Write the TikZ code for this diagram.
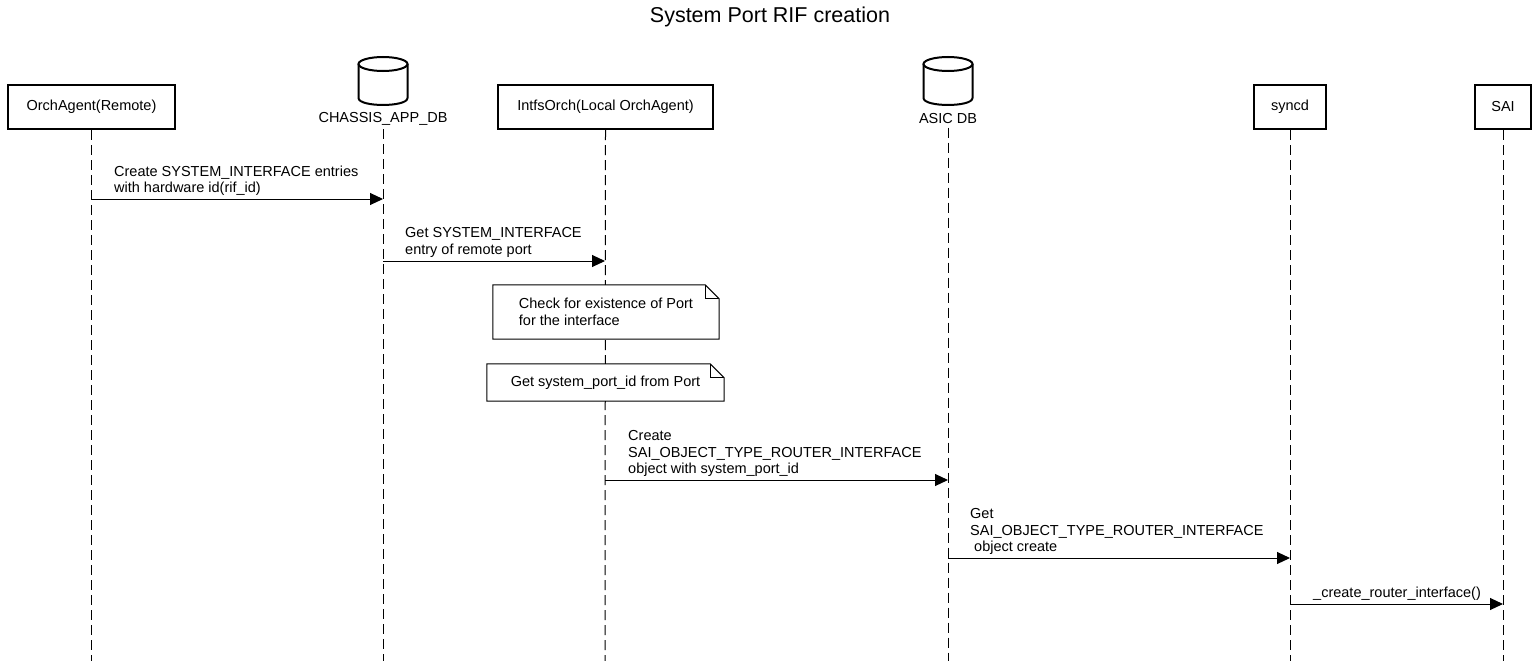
\documentclass[tikz,border=0pt]{standalone}
\usepackage{fontspec}
\setmainfont{Liberation Sans}
\usetikzlibrary{arrows.meta,positioning,calc}

\begin{document}
\begin{tikzpicture}[x=1pt,y=-1pt,
    every node/.style={font=\fontsize{14.5}{16.5}\selectfont},
    actor/.style={draw,line width=2pt,minimum height=44},
    dbline/.style={line width=2pt},
    lifeline/.style={line width=1pt,dash pattern=on 10pt off 5pt},
    msg/.style={line width=1pt,-{Triangle[length=13pt,width=12pt]}},
    lbl/.style={anchor=north west,inner sep=0pt,align=left},
    note/.style={fill=white,inner sep=0pt,align=left},
    noteline/.style={line width=1pt}]
  \useasboundingbox (0,0) rectangle (1540,661);
  \node (title) at (770,17) {\fontsize{21.5}{24}\selectfont System Port RIF creation};

  \node[actor,minimum width=167] (orch) at (91.5,107) {OrchAgent(Remote)};
  \node[actor,minimum width=215] (intfs) at (605.5,107) {IntfsOrch(Local OrchAgent)};
  \node[actor,minimum width=72] (syncd) at (1290,107) {syncd};
  \node[actor,minimum width=56] (sai) at (1503,107) {SAI};

  \begin{scope}[shift={(383,0)}]
    \draw[dbline] (0,64) ellipse [x radius=24.5,y radius=7];
    \draw[dbline] (-24.5,64) -- (-24.5,98) .. controls (-24.5,107.3) and (24.5,107.3) .. (24.5,98) -- (24.5,64);
  \end{scope}
  \node (chdb) at (383,119) {CHASSIS\_APP\_DB};
  \begin{scope}[shift={(948,0)}]
    \draw[dbline] (0,64) ellipse [x radius=24.5,y radius=7];
    \draw[dbline] (-24.5,64) -- (-24.5,98) .. controls (-24.5,107.3) and (24.5,107.3) .. (24.5,98) -- (24.5,64);
  \end{scope}
  \node (asicdb) at (948,119) {ASIC DB};

  \draw[lifeline] (orch.south) -- (orch |- 0,661);
  \draw[lifeline] (chdb.south) -- (chdb |- 0,661);
  \draw[lifeline] (intfs.south) -- (605,661);
  \draw[lifeline] (asicdb.south) -- (asicdb |- 0,661);
  \draw[lifeline] (syncd.south) -- (syncd |- 0,661);
  \draw[lifeline] (sai.south) -- (sai |- 0,661);

  \draw[msg] (orch |- 0,199) -- (chdb |- 0,199);
  \node[lbl] (m1) at (114,165.5) {Create SYSTEM\_INTERFACE entries\\with hardware id(rif\_id)};
  \draw[msg] (chdb |- 0,261) -- (605,261);
  \node[lbl] (m2) at (405,227.5) {Get SYSTEM\_INTERFACE\\entry of remote port};

  \node[note,minimum width=226,minimum height=54] (n1) at (606,312) {Check for existence of Port\\for the interface};
  \draw[noteline] (n1.north west) -- ($(n1.north east)+(-14,0)$) -- ($(n1.north east)+(0,14)$) -- (n1.south east) -- (n1.south west) -- cycle;
  \draw[noteline] ($(n1.north east)+(-14,0)$) -- ($(n1.north east)+(-14,14)$) -- ($(n1.north east)+(0,14)$);
  \node[note,minimum width=237,minimum height=37] (n2) at (605.5,382.5) {Get system\_port\_id from Port};
  \draw[noteline] (n2.north west) -- ($(n2.north east)+(-14,0)$) -- ($(n2.north east)+(0,14)$) -- (n2.south east) -- (n2.south west) -- cycle;
  \draw[noteline] ($(n2.north east)+(-14,0)$) -- ($(n2.north east)+(-14,14)$) -- ($(n2.north east)+(0,14)$);

  \draw[msg] (605,480) -- (asicdb |- 0,480);
  \node[lbl] (m3) at (628,430.5) {Create\\SAI\_OBJECT\_TYPE\_ROUTER\_INTERFACE\\object with system\_port\_id};
  \draw[msg] (asicdb |- 0,558) -- (syncd |- 0,558);
  \node[lbl] (m4) at (970,508.5) {Get\\SAI\_OBJECT\_TYPE\_ROUTER\_INTERFACE\\\ object create};
  \draw[msg] (syncd |- 0,604) -- (sai |- 0,604);
  \node[lbl] (m5) at (1313,586.5) {\_create\_router\_interface()};
\end{tikzpicture}
\end{document}
